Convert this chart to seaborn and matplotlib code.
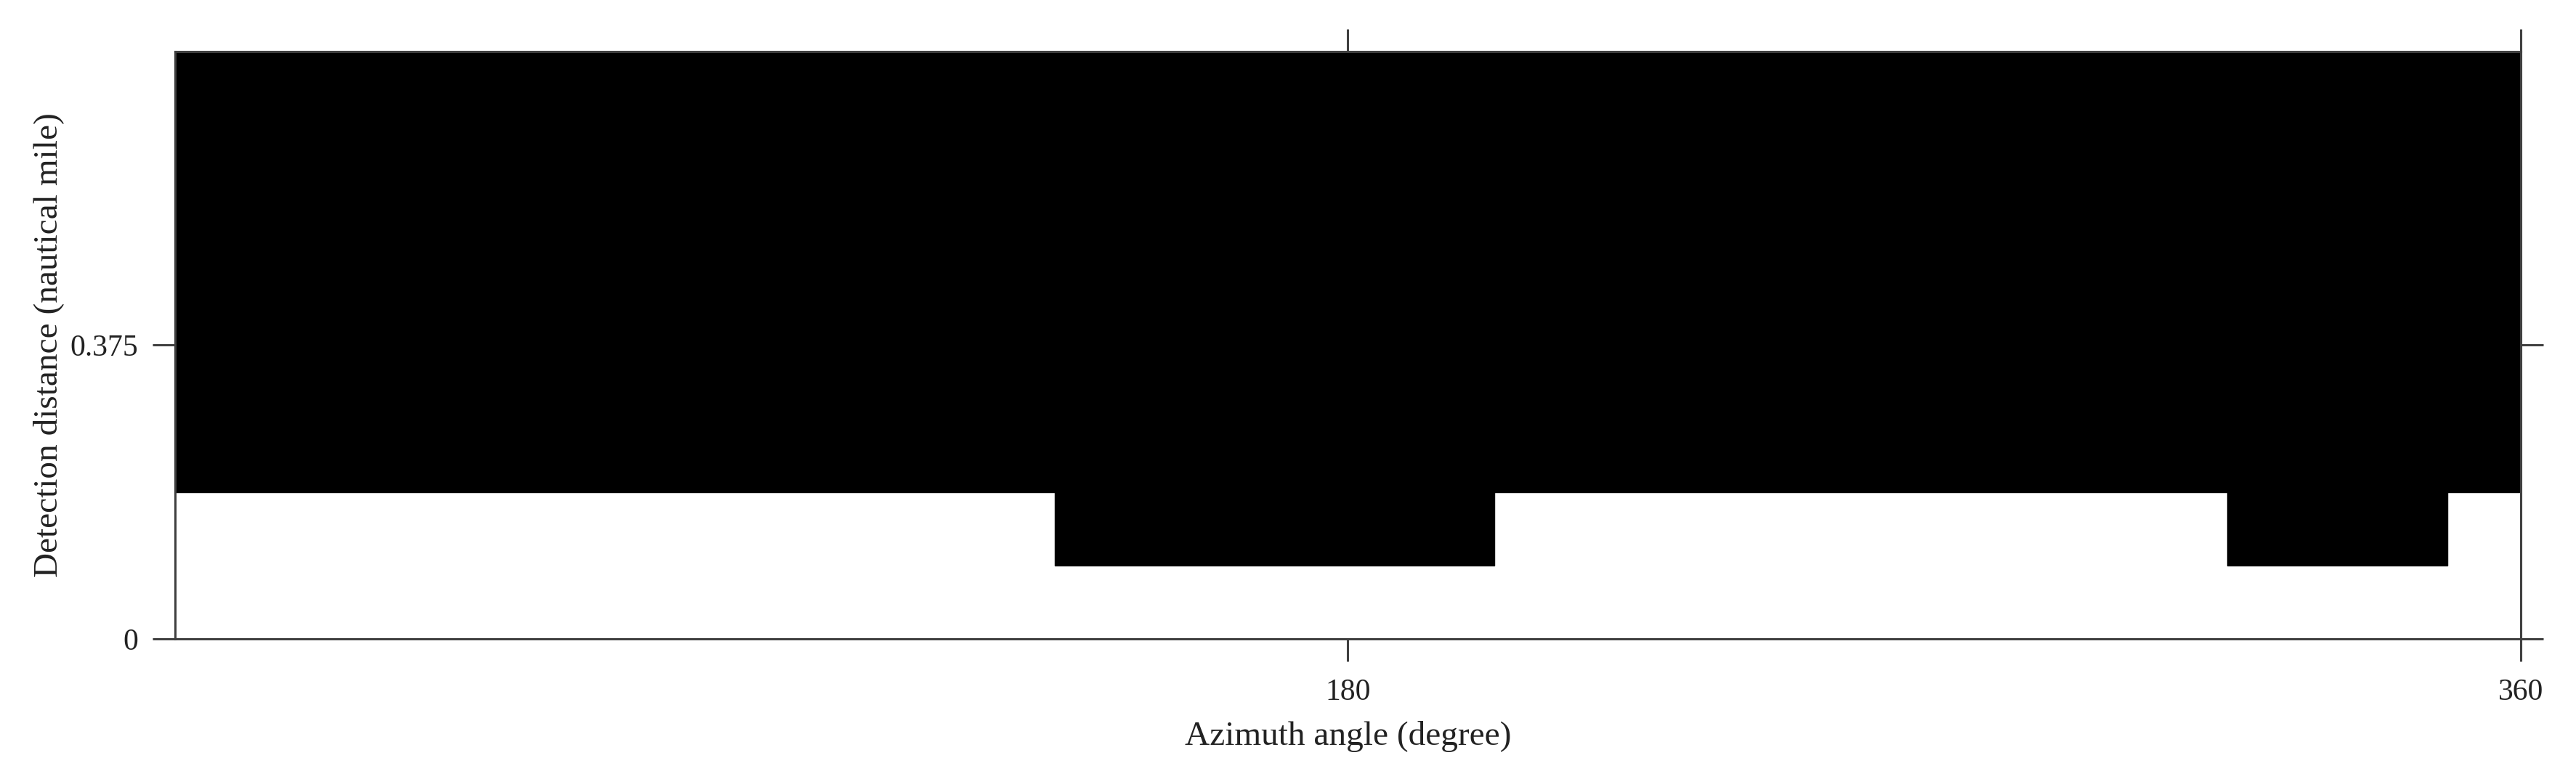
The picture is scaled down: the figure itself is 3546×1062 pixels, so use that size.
import numpy as np
import pandas as pd
import matplotlib
matplotlib.use("Agg")
import matplotlib.pyplot as plt
import seaborn as sns

# Data: azimuth sector edges (degree) and minimum detection distance (nautical mile)
azimuth_edges = [0, 135, 202.5, 315, 348.75, 360]
min_distance = [0.1875, 0.09375, 0.1875, 0.09375, 0.1875]
max_distance = 0.75
x_ticks = [180, 360]
y_ticks = [0, 0.375]
x_tick_labels = ["180", "360"]
y_tick_labels = ["0", "0.375"]

sns.set_theme(style="white")
plt.rcParams["font.family"] = ["Liberation Serif", "DejaVu Serif"]

spine_color = "#404040"
fig = plt.figure(figsize=(35.46, 10.62), dpi=100)
ax = fig.add_axes([0.06785, 0.17137, 0.97857 - 0.06785, 0.93343 - 0.17137])

df = pd.DataFrame({
    "azimuth": azimuth_edges,
    "distance": min_distance + [min_distance[-1]],
})

sns.lineplot(data=df, x="azimuth", y="distance", drawstyle="steps-post",
             color="black", linewidth=1.0, ax=ax)
ax.fill_between(df["azimuth"], df["distance"], max_distance, step="post",
                color="black", linewidth=0)

ax.set_xlim(0, 360)
ax.set_ylim(0, max_distance)
ax.set_xticks(x_ticks)
ax.set_xticklabels(x_tick_labels)
ax.set_yticks(y_ticks)
ax.set_yticklabels(y_tick_labels)

for s in ax.spines.values():
    s.set_visible(True)
    s.set_color(spine_color)
    s.set_linewidth(2.2)

ax.tick_params(axis="both", which="both", direction="out", length=22.5, width=2.2,
               color=spine_color, labelsize=30, labelcolor="#222222",
               top=True, right=True, bottom=True, left=True,
               labeltop=False, labelright=False)
ax.tick_params(axis="x", pad=17)
ax.tick_params(axis="y", pad=13.5)

ax.set_xlabel("Azimuth angle (degree)", fontsize=34, color="#222222", labelpad=14)
ax.set_ylabel("Detection distance (nautical mile)", fontsize=34, color="#222222", labelpad=6)
ax.grid(False)

fig.savefig("out.png", dpi=100, facecolor="white")
